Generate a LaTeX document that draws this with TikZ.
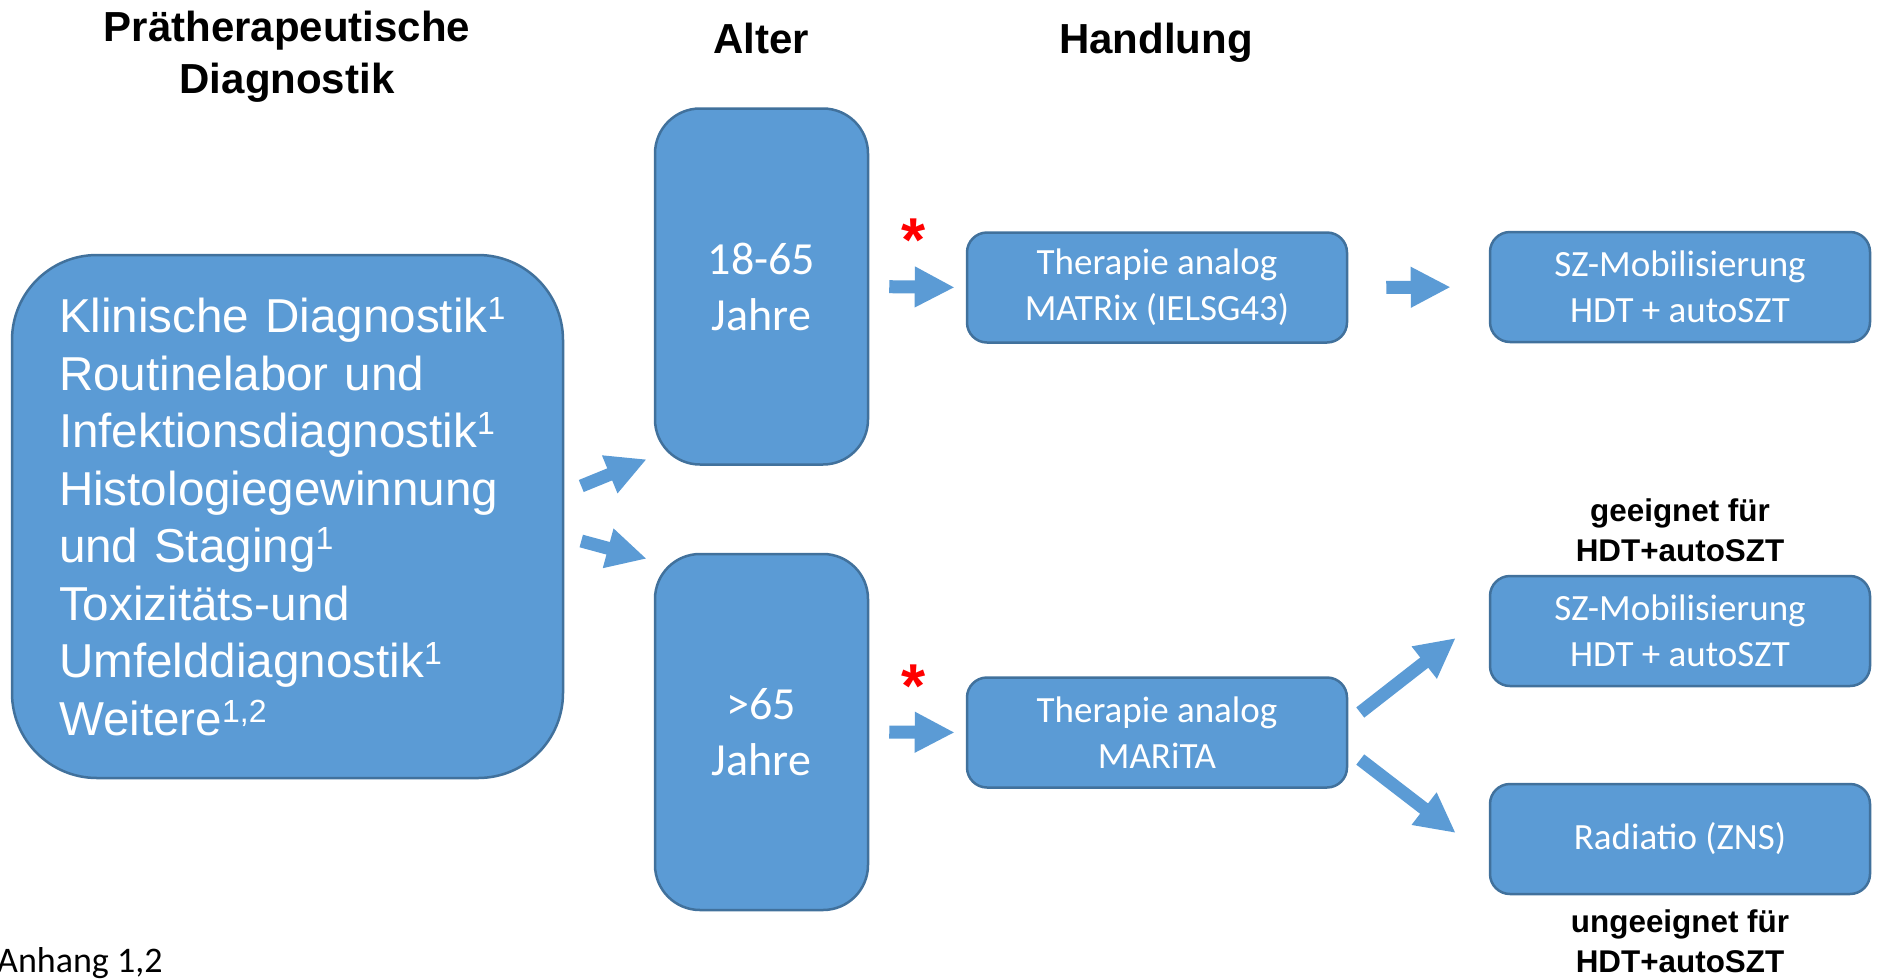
\documentclass[tikz,border=0pt]{standalone}
\usepackage{fontspec}
\setmainfont{Liberation Sans}
\newfontfamily\calibri{Carlito}
\usetikzlibrary{arrows.meta,calc}
\definecolor{boxfill}{HTML}{5B9BD5}
\definecolor{boxline}{HTML}{41719C}
% raised footnote marks in the diagnostics list
\newcommand\supnum[1]{\raisebox{13pt}{\fontsize{32}{32}\selectfont #1}}
\tikzset{
  box/.style={draw=boxline, line width=2.5pt, fill=boxfill, text=white,
    align=center, inner sep=0pt},
  diagbox/.style={box, rounded corners=85pt, minimum width=551pt,
    minimum height=523pt, text width=457pt, align=left,
    inner xsep=47pt, font=\fontsize{47.6}{57.5}\selectfont},
  agebox/.style={box, rounded corners=45pt, minimum width=213pt,
    minimum height=356pt, font=\calibri\fontsize{46}{56}\selectfont},
  stepbox/.style={box, rounded corners=20pt, minimum width=380pt,
    minimum height=110pt, font=\calibri\fontsize{37}{46}\selectfont},
  heading/.style={align=center, font=\bfseries\fontsize{42}{52}\selectfont},
  remark/.style={align=center, font=\bfseries\fontsize{31.4}{40}\selectfont},
  starmark/.style={text=red, inner sep=0pt, font=\bfseries\fontsize{62}{62}\selectfont},
  blockarrow/.style={draw=boxfill, line width=13pt,
    -{Triangle[length=40pt,width=38pt]}},
}
\begin{document}
\begin{tikzpicture}[x=1pt,y=-1pt]
\useasboundingbox (0,0) rectangle (1877,978);

% column headings
\node[heading] (hdiag) at (287,57) {Prätherapeutische\\Diagnostik};
\node[heading, anchor=base] (hage) at (761,53) {Alter};
\node[heading, anchor=base] (hact) at (1156,53) {Handlung};

% diagnostics box
\node[diagbox] (diag) at (287.5,516.5) {%
Klinische Diagnostik\supnum{1}\\
Routinelabor und\\
Infektionsdiagnostik\supnum{1}\\
Histologiegewinnung\\
und Staging\supnum{1}\\
Toxizitäts-und\\
Umfelddiagnostik\supnum{1}\\
Weitere\supnum{1,2}};

% age groups
\node[agebox] (age1) at (761.5,286.5) {18-65\\Jahre};
\node[agebox] (age2) at (761.5,732) {>65\\Jahre};

% treatment steps
\node[stepbox] (ther1) at (1157,287.5) {Therapie analog\\MATRix (IELSG43)};
\node[stepbox] (ther2) at (1157,732.5) {Therapie analog\\MARiTA};
\node[stepbox] (sz1) at (1680,287) {SZ-Mobilisierung\\HDT + autoSZT};
\node[stepbox] (sz2) at (1680,631) {SZ-Mobilisierung\\HDT + autoSZT};
\node[stepbox] (rad) at (1680,839) {Radiatio (ZNS)};

% eligibility remarks
\node[remark] (fit) at (1680,530.5) {geeignet für\\HDT+autoSZT};
\node[remark] (unfit) at (1680,941) {ungeeignet für\\HDT+autoSZT};

% asterisks
\node[starmark, anchor=base] (star1) at (914,261) {*};
\node[starmark, anchor=base] (star2) at (914,707) {*};

% footnote
\node[anchor=base west, inner sep=0pt, font=\calibri\fontsize{36}{42}\selectfont]
  (annex) at (-3,972) {Anhang 1,2};

% block arrows
\draw[blockarrow] ($(diag.east)+(17,-30.5)$) -- ($(age1.south west)+(-7,-6.5)$);
\draw[blockarrow] ($(diag.east)+(17,24.5)$) -- ($(age2.north west)+(-7,6)$);
\draw[blockarrow, shorten <=20pt, shorten >=11pt] (age1.east) -- (ther1.west);
\draw[blockarrow, shorten <=20pt, shorten >=11pt] (age2.east) -- (ther2.west);
\draw[blockarrow, shorten <=38pt, shorten >=38pt] (ther1.east) -- (sz1.west);
\draw[blockarrow] ($(ther2.east)+(12,-20)$) -- ($(sz2.west)+(-33,7)$);
\draw[blockarrow] ($(ther2.east)+(12,27)$) -- ($(rad.west)+(-33,-6)$);
\end{tikzpicture}
\end{document}
